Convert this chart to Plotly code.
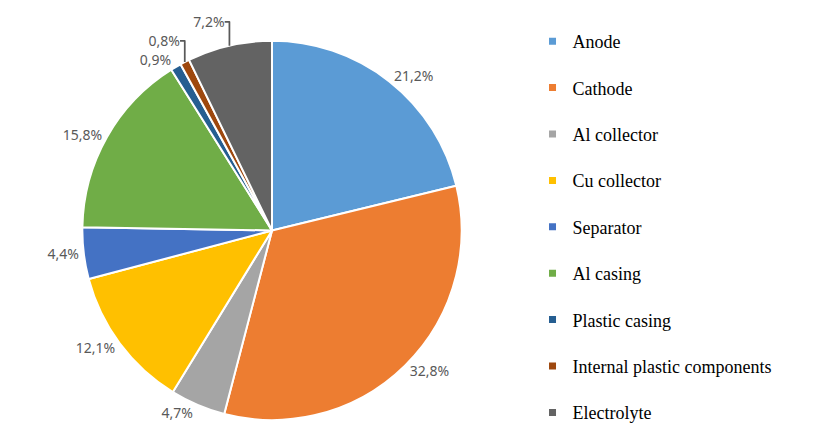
import plotly.graph_objects as go

labels = ["Anode", "Cathode", "Al collector", "Cu collector", "Separator",
          "Al casing", "Plastic casing", "Internal plastic components", "Electrolyte"]
values = [21.2, 32.8, 4.7, 12.1, 4.4, 15.8, 0.9, 0.8, 7.2]
colors = ["#5B9BD5", "#ED7D31", "#A5A5A5", "#FFC000", "#4472C4",
          "#70AD47", "#255E91", "#9E480E", "#636363"]

text = [f"{v:.1f}%".replace(".", ",") for v in values]

W, H = 817, 423
cx, cy, r = 264, 221, 191

fig = go.Figure()
fig.add_trace(go.Pie(
    labels=labels, values=values, text=text, textinfo="text",
    textposition="outside", sort=False, direction="clockwise", rotation=0,
    marker=dict(colors=colors, line=dict(color="white", width=2)),
    outsidetextfont=dict(family="Noto Sans", size=14, color="#595959"),
    showlegend=False, hoverinfo="label+percent",
    domain=dict(x=[(cx - r) / W, (cx + r) / W], y=[(H - cy - r) / H, (H - cy + r) / H]),
))

for i, (lab, col) in enumerate(zip(labels, colors)):
    fig.add_trace(go.Scatter(
        x=[None], y=[None], mode="markers", name=lab,
        marker=dict(symbol="square", size=7, color=col),
        legendgroup=f"g{i}", showlegend=True,
    ))

fig.update_layout(
    width=W, height=H, margin=dict(l=0, r=0, t=0, b=0),
    paper_bgcolor="white", plot_bgcolor="white",
    xaxis=dict(visible=False), yaxis=dict(visible=False),
    legend=dict(x=0.642, y=0.917, xanchor="left", yanchor="top",
                font=dict(family="Liberation Serif", size=18, color="#000000"),
                tracegroupgap=20, itemwidth=30, bgcolor="rgba(0,0,0,0)",
                maxheight=600),
)

fig.write_html("out.html")
